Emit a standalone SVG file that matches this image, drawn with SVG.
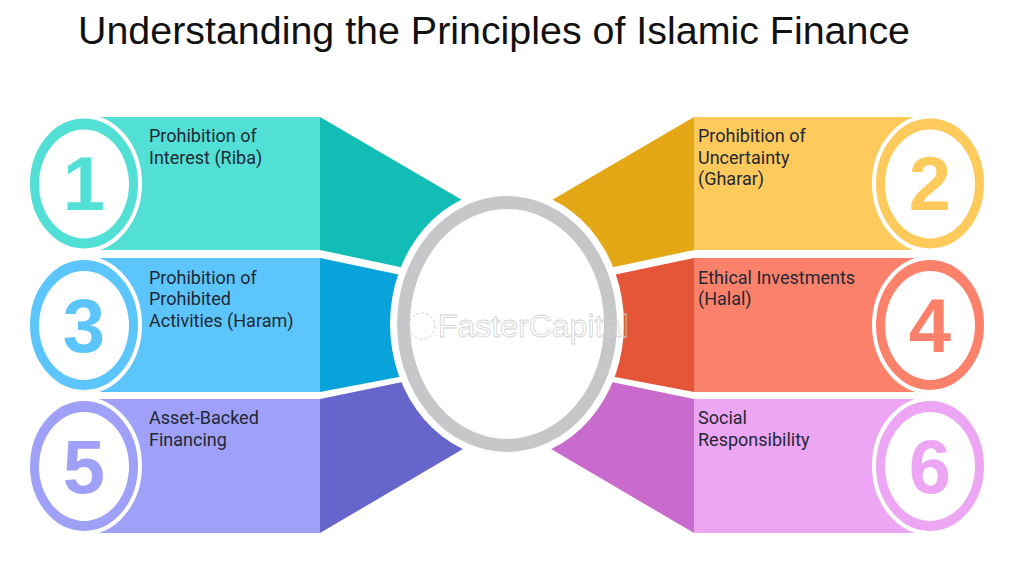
<svg xmlns="http://www.w3.org/2000/svg" width="1024" height="583" viewBox="0 0 1024 583">
<style>
.title{font-family:"Liberation Sans",Arial,sans-serif;font-size:39.4px;fill:#111}
.lbl{font-family:Roboto,"Liberation Sans",sans-serif;font-size:18px;fill:#1f2833}
.num{font-family:"Liberation Sans",Arial,sans-serif;font-size:76px;font-weight:bold;text-anchor:middle}
.ring{stroke:#fff;stroke-width:4}
.inner{fill:#fff}
.wm{font-family:"Liberation Sans",Arial,sans-serif;font-size:32px;fill:none;stroke:#d2d2d2;stroke-width:0.8}
</style>
<rect width="1024" height="583" fill="#fff"/>
<text class="title" x="78" y="44">Understanding the Principles of Islamic Finance</text>

<g id="item-1">
<rect x="100" y="117" width="220" height="133" fill="#52e0d6"/>
<polygon points="320,117 480,210.5 480,284 320,250" fill="#12bdb6"/>
<ellipse class="ring" cx="84" cy="183.5" rx="56" ry="67" fill="#52e0d6"/>
<ellipse class="inner" cx="84" cy="184" rx="45" ry="54.5"/>
<text class="num" x="84" y="210" fill="#52e0d6">1</text>
<text class="lbl" x="149" y="142">Prohibition of</text>
<text class="lbl" x="149" y="163.5">Interest (Riba)</text>
</g>

<g id="item-3">
<rect x="100" y="258" width="220" height="134" fill="#5cc6fc"/>
<polygon points="320,258 420,279 420,373 320,392" fill="#07a3da"/>
<ellipse class="ring" cx="84" cy="325" rx="56" ry="67" fill="#5cc6fc"/>
<ellipse class="inner" cx="84" cy="325.5" rx="45" ry="54.5"/>
<text class="num" x="84" y="352" fill="#5cc6fc">3</text>
<text class="lbl" x="149" y="283.5">Prohibition of</text>
<text class="lbl" x="149" y="305">Prohibited</text>
<text class="lbl" x="149" y="326.5">Activities (Haram)</text>
</g>

<g id="item-5">
<rect x="100" y="399" width="220" height="134" fill="#9fa0f8"/>
<polygon points="320,399 480,366 480,439 320,533" fill="#6665cb"/>
<ellipse class="ring" cx="84" cy="466" rx="56" ry="67" fill="#9fa0f8"/>
<ellipse class="inner" cx="84" cy="466.5" rx="45" ry="54.5"/>
<text class="num" x="84" y="493" fill="#9fa0f8">5</text>
<text class="lbl" x="149" y="424">Asset-Backed</text>
<text class="lbl" x="149" y="445.5">Financing</text>
</g>

<g id="item-2">
<rect x="694" y="117" width="220" height="133" fill="#fdca5b"/>
<polygon points="694,117 534,210.5 534,284 694,250" fill="#e4a817"/>
<ellipse class="ring" cx="930" cy="183.5" rx="56" ry="67" fill="#fdca5b"/>
<ellipse class="inner" cx="930" cy="184" rx="45" ry="54.5"/>
<text class="num" x="930" y="210" fill="#fdca5b">2</text>
<text class="lbl" x="698" y="142">Prohibition of</text>
<text class="lbl" x="698" y="163.5">Uncertainty</text>
<text class="lbl" x="698" y="185">(Gharar)</text>
</g>

<g id="item-4">
<rect x="694" y="258" width="220" height="134" fill="#fc816b"/>
<polygon points="694,258 594,279 594,373 694,392" fill="#e45637"/>
<ellipse class="ring" cx="930" cy="325" rx="56" ry="67" fill="#fc816b"/>
<ellipse class="inner" cx="930" cy="325.5" rx="45" ry="54.5"/>
<text class="num" x="930" y="352" fill="#fc816b">4</text>
<text class="lbl" x="698" y="283.5">Ethical Investments</text>
<text class="lbl" x="698" y="305">(Halal)</text>
</g>

<g id="item-6">
<rect x="694" y="399" width="220" height="134" fill="#eda6f3"/>
<polygon points="694,399 534,366 534,439 694,533" fill="#c96bcd"/>
<ellipse class="ring" cx="930" cy="466" rx="56" ry="67" fill="#eda6f3"/>
<ellipse class="inner" cx="930" cy="466.5" rx="45" ry="54.5"/>
<text class="num" x="930" y="493" fill="#eda6f3">6</text>
<text class="lbl" x="698" y="424">Social</text>
<text class="lbl" x="698" y="445.5">Responsibility</text>
</g>

<g id="center">
<ellipse cx="507" cy="324" rx="117" ry="135" fill="#fff"/>
<ellipse cx="507" cy="324" rx="103.5" ry="121.5" fill="#fff" stroke="#c6c7c8" stroke-width="13"/>
<circle cx="422" cy="326" r="13" fill="none" stroke="#d2d2d2" stroke-width="1" stroke-dasharray="3,2"/>
<text class="wm" x="438" y="337">FasterCapital</text>
</g>
<g id="connectors"/>
</svg>
